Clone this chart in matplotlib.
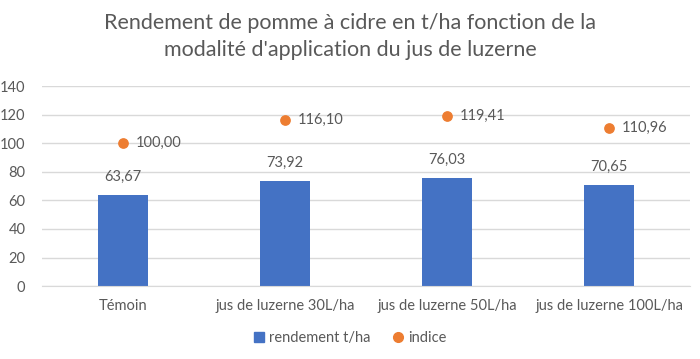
import numpy as np
import matplotlib
matplotlib.use("Agg")
import matplotlib.pyplot as plt
from matplotlib.lines import Line2D

plt.rcParams['font.family'] = ['Lato', 'DejaVu Sans']

categories = ["Témoin", "jus de luzerne 30L/ha", "jus de luzerne 50L/ha", "jus de luzerne 100L/ha"]
rendement = [63.67, 73.92, 76.03, 70.65]
indice = [100.00, 116.10, 119.41, 110.96]

grey = "#595959"
blue = "#4472C4"
orange = "#ED7D31"

fig = plt.figure(figsize=(7, 3.59), dpi=100)
ax = fig.add_axes([0.06, 0.203, 0.926, 0.557])

x = np.arange(len(categories))
ax.bar(x, rendement, width=0.31, color=blue, zorder=2)
ax.scatter(x, indice, s=45, color=orange, zorder=3)

def fmt(v):
    return f"{v:.2f}".replace(".", ",")

for xi, v in zip(x, rendement):
    ax.annotate(fmt(v), (xi, v), xytext=(0, 8), textcoords="offset points",
                ha="center", va="bottom", fontsize=10.5, color=grey)
for xi, v in zip(x, indice):
    ax.annotate(fmt(v), (xi, v), xytext=(9, 0), textcoords="offset points",
                ha="left", va="center", fontsize=10.5, color=grey)

ax.set_xlim(-0.5, len(categories) - 0.5)
ax.set_ylim(0, 140)
ax.set_yticks(range(0, 141, 20))
ax.set_xticks(x)
ax.set_xticklabels(categories)
ax.yaxis.grid(True, color="#D9D9D9", linewidth=1, zorder=0)
ax.set_axisbelow(True)
for s in ["top", "right", "left"]:
    ax.spines[s].set_visible(False)
ax.spines["bottom"].set_color("#D9D9D9")
ax.tick_params(axis="both", length=0, colors=grey, labelsize=10.5)
ax.tick_params(axis="x", pad=9)
ax.tick_params(axis="y", pad=12)

fig.text(0.5, 0.965, "Rendement de pomme à cidre en t/ha fonction de la\nmodalité d'application du jus de luzerne",
         ha="center", va="top", fontsize=15.5, color=grey, linespacing=1.45)

handles = [
    Line2D([], [], linestyle="none", marker="s", markersize=7, color=blue, label="rendement t/ha"),
    Line2D([], [], linestyle="none", marker="o", markersize=7, color=orange, label="indice"),
]
fig.legend(handles=handles, loc="center", bbox_to_anchor=(0.5, 0.058), ncol=2, frameon=False,
           fontsize=10.5, labelcolor=grey, handlelength=0.8, handletextpad=0.3,
           columnspacing=1.5)

fig.savefig("out.png", dpi=100)
